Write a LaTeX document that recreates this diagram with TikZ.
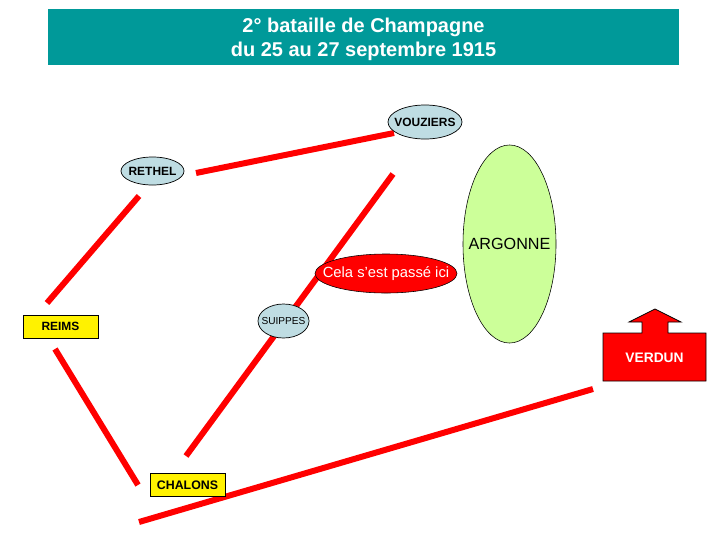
\documentclass[tikz,border=0pt]{standalone}
\usepackage{fontspec}
\setmainfont{Liberation Sans}
\usetikzlibrary{shapes.geometric,positioning}
\definecolor{titreteal}{HTML}{009999}
\definecolor{villeblue}{HTML}{BFDDE3}
\definecolor{argonnegreen}{HTML}{CCFF99}
\newcommand{\nomlieu}[1]{\makebox[0pt]{#1}}
\tikzset{
    front/.style={draw=red, line width=0.15cm},
    ville/.style={draw, ellipse, fill=villeblue, inner sep=0pt, outer sep=0pt, line width=0.5pt},
    pref/.style={draw, fill=yellow, inner sep=0pt, outer sep=0pt, line width=0.5pt}
}

\begin{document}
\begin{tikzpicture}[x=0.025cm, y=-0.025cm]
    \useasboundingbox (0,0) rectangle (720,540);

    \node[fill=titreteal, minimum width=15.775cm, minimum height=1.4cm, inner sep=0pt, align=center, text=white, font=\bfseries\fontsize{14.2}{16.9}\selectfont] (titre) at (363.5,37) {\rule{0pt}{13.5pt}2° bataille de Champagne\\du 25 au 27 septembre 1915};

    \coordinate (rethelE) at (196,173);
    \coordinate (vouziersW) at (394,133);
    \coordinate (rethelS) at (139,196);
    \coordinate (reimsN) at (47,303);
    \coordinate (reimsS) at (55,349);
    \coordinate (chalonsW) at (138,485);
    \coordinate (frontN) at (393,174);
    \coordinate (chalonsN) at (186,456);
    \coordinate (chalonsS) at (139,522);
    \coordinate (verdunS) at (593,389);

    \draw[front] (rethelE) -- (vouziersW);
    \draw[front] (rethelS) -- (reimsN);
    \draw[front] (reimsS) -- (chalonsW);
    \draw[front] (frontN) -- (chalonsN);
    \draw[front] (chalonsS) -- (verdunS);

    \node[ville, minimum width=1.85cm, minimum height=0.85cm, font=\bfseries\fontsize{8.5}{10}\selectfont] (vouziers) at (425,122) {\nomlieu{VOUZIERS}};
    \node[ville, minimum width=1.575cm, minimum height=0.7cm, font=\bfseries\fontsize{8.5}{10}\selectfont] (rethel) at (152.5,171) {\nomlieu{RETHEL}};
    \node[ville, minimum width=1.275cm, minimum height=0.85cm, font=\fontsize{7.2}{8}\selectfont] (suippes) at (283.5,321) {\nomlieu{SUIPPES}};

    \node[draw, ellipse, fill=argonnegreen, minimum width=2.325cm, minimum height=4.95cm, inner sep=0pt, font=\fontsize{11.5}{14}\selectfont] (argonne) at (509.5,244) {\nomlieu{ARGONNE}};
    \node[draw, ellipse, fill=red, text=white, minimum width=3.55cm, minimum height=0.975cm, inner sep=0pt, font=\fontsize{10.5}{12}\selectfont] (ici) at (386,273.5) {\nomlieu{Cela s'est passé ici}};

    \node[pref, minimum width=1.875cm, minimum height=0.575cm, font=\bfseries\fontsize{8.5}{10}\selectfont] (reims) at (60.5,326.5) {REIMS};
    \node[pref, minimum width=1.875cm, minimum height=0.575cm, font=\bfseries\fontsize{8.8}{10}\selectfont] (chalons) at (187.5,485) {CHALONS};

    % fleche et bloc
    \draw[fill=red, line width=0.5pt] (603,333) -- (642,333) -- (642,322) -- (629,322) -- (655,309) -- (681,322) -- (668,322) -- (668,333) -- (706,333) -- (706,381) -- (603,381) -- cycle;
    \node[text=white, inner sep=0pt, font=\bfseries\fontsize{9.8}{12}\selectfont] (verdun) at (654.5,358) {VERDUN};
\end{tikzpicture}
\end{document}
